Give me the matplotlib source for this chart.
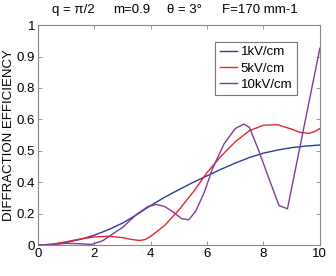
import matplotlib.pyplot as plt
import numpy as np

# field strength (x axis)
x_1kv = [0, 0.5, 1, 1.5, 2, 2.5, 3, 3.5, 4, 4.5, 5, 5.5, 6, 6.5, 7, 7.5, 8, 8.5, 9, 9.5, 10]
y_1kv = [0, 0.003, 0.012, 0.026, 0.045, 0.07, 0.1, 0.138, 0.18, 0.218, 0.252, 0.285, 0.315, 0.345,
         0.373, 0.398, 0.418, 0.432, 0.443, 0.45, 0.455]

x_5kv = [0, 0.5, 1, 1.5, 2, 2.5, 3, 3.3, 3.6, 3.8, 4, 4.5, 5, 5.5, 6, 6.5, 7, 7.5, 8, 8.5,
         9, 9.3, 9.6, 9.8, 10]
y_5kv = [0, 0.004, 0.015, 0.028, 0.037, 0.04, 0.034, 0.026, 0.021, 0.025, 0.04, 0.09, 0.16, 0.24,
         0.33, 0.405, 0.47, 0.52, 0.545, 0.547, 0.527, 0.512, 0.508, 0.515, 0.53]

x_10kv = [0, 0.5, 1, 1.5, 1.9, 2.3, 2.7, 3, 3.5, 3.9, 4.2, 4.5, 4.8, 5.1, 5.35, 5.6, 5.9, 6.2,
          6.6, 7.0, 7.3, 7.5, 7.8, 8.2, 8.55, 8.85, 10]
y_10kv = [0, 0.002, 0.008, 0.006, 0.003, 0.02, 0.055, 0.08, 0.14, 0.175, 0.185, 0.175, 0.15,
          0.12, 0.115, 0.155, 0.24, 0.35, 0.46, 0.53, 0.55, 0.535, 0.44, 0.3, 0.18, 0.165, 0.895]

labels = ['1kV/cm', '5kV/cm', '10kV/cm']
xticks = [0, 2, 4, 6, 8, 10]
ytick_labels = ['0', '0.2', '0.4', '0.5', '0.6', '0.8', '0.9', '1']

plt.rcParams['font.family'] = ['Liberation Sans', 'DejaVu Sans']

fig = plt.figure(figsize=(3.36, 2.76), dpi=100)
ax = fig.add_axes([0.113, 0.112, 0.839, 0.797])

ax.plot(x_1kv, y_1kv, color='#2b3c9b', lw=1.0, label=labels[0])
ax.plot(x_5kv, y_5kv, color='#e8262b', lw=1.0, label=labels[1])
ax.plot(x_10kv, y_10kv, color='#7a3f98', lw=1.0, label=labels[2])

ax.set_xlim(0, 10)
ax.set_ylim(0, 1)
ax.set_xticks(xticks)
ax.set_yticks(np.linspace(0, 1, len(ytick_labels)))
ax.set_yticklabels(ytick_labels)
ax.tick_params(direction='in', length=3, width=0.6, color='#888888', labelsize=9.5,
               top=True, right=True, pad=2)
for s in ax.spines.values():
    s.set_color('#888888')
    s.set_linewidth(0.8)

ax.set_ylabel('DIFFRACTION EFFICIENCY', fontsize=9.5, labelpad=1)

fig.text(0.155, 0.963, 'q = π/2', fontsize=9.5, va='center')
fig.text(0.336, 0.963, 'm=0.9', fontsize=9.5, va='center')
fig.text(0.497, 0.963, 'θ = 3°', fontsize=9.5, va='center')
fig.text(0.661, 0.963, 'F=170 mm-1', fontsize=9.5, va='center')

leg = ax.legend(loc='upper left', bbox_to_anchor=(0.628, 0.925), fontsize=9.5, frameon=True,
                fancybox=False, borderaxespad=0, handlelength=1.3, handletextpad=0.3,
                labelspacing=0.3, borderpad=0.35)
leg.get_frame().set_edgecolor('#555555')
leg.get_frame().set_linewidth(0.8)

fig.savefig('out.png', dpi=100)
